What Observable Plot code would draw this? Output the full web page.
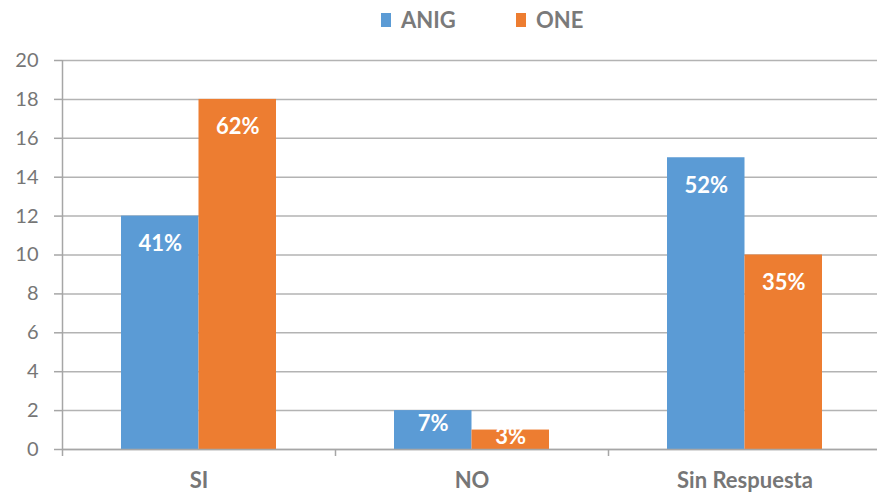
<!DOCTYPE html>
<html>
<head>
<meta charset="utf-8">
<script src="https://cdn.jsdelivr.net/npm/d3@7"></script>
<script src="https://cdn.jsdelivr.net/npm/@observablehq/plot@0.6"></script>
<style>
  html, body { margin: 0; padding: 0; background: #fff; }
  body { width: 877px; height: 497px; overflow: hidden; font-family: Lato, "Open Sans", sans-serif; }
  #legend { height: 45px; width: 877px; position: relative; }
  .item { position: absolute; top: 7px; display: flex; align-items: center; font-weight: bold; font-size: 22px; color: #7a7a7a; line-height: 26px; }
  .sw { width: 10px; height: 14px; margin-right: 10px; }
  #chart svg { max-width: none !important; }
</style>
</head>
<body>
<div id="legend"></div>
<div id="chart"></div>
<script>
const categories = ["SI", "NO", "Sin Respuesta"];
const seriesNames = ["ANIG", "ONE"];
const anigValues = [12, 2, 15];
const oneValues = [18, 1, 10];
const anigLabels = ["41%", "7%", "52%"];
const oneLabels = ["62%", "3%", "35%"];
const yTicks = [0, 2, 4, 6, 8, 10, 12, 14, 16, 18, 20];
const colors = ["#5B9BD5", "#ED7D31"];

const data = [];
categories.forEach((c, i) => {
  data.push({cat: c, series: "ANIG", v: anigValues[i], label: anigLabels[i]});
  data.push({cat: c, series: "ONE", v: oneValues[i], label: oneLabels[i]});
});

const legend = document.getElementById("legend");
const legendLeft = [381, 516];
seriesNames.forEach((s, i) => {
  const it = document.createElement("div");
  it.className = "item";
  it.style.left = legendLeft[i] + "px";
  it.innerHTML = `<span class="sw" style="background:${colors[i]}"></span><span>${s}</span>`;
  legend.appendChild(it);
});

const W = 881, ML = 62, MR = 0;
const bw = (W - ML - MR) / categories.length;
const outer = 59, barW = 77.5;
const inset = {
  ANIG: {l: outer, r: bw - outer - barW},
  ONE: {l: outer + barW, r: bw - outer - 2 * barW}
};
const tall = d => d.v >= 5;
const grayText = "#767676";

const marks = [
  Plot.gridY(yTicks, {stroke: "#b3b3b3", strokeOpacity: 1, strokeWidth: 1.5}),
  Plot.axisY(yTicks, {tickSize: 8, tickPadding: 16, fontSize: 20, color: grayText, stroke: "#a6a6a6", strokeWidth: 1.5, label: null}),
  Plot.ruleX([0], {x: () => categories[0], dx: -bw / 2, y1: 0, y2: 20, stroke: "#a6a6a6", strokeWidth: 1.5}),
];
seriesNames.forEach((s, i) => {
  const sub = data.filter(d => d.series === s);
  const dx = inset[s].l + barW / 2 - bw / 2;
  marks.push(Plot.barY(sub, {x: "cat", y: "v", fill: colors[i], insetLeft: inset[s].l, insetRight: inset[s].r}));
  marks.push(Plot.text(sub.filter(tall), {x: "cat", y: "v", text: "label", dx, dy: 28, fill: "white", fontWeight: "bold", fontSize: 22}));
  marks.push(Plot.text(sub.filter(d => !tall(d)), {x: "cat", y: d => d.v * 0.65, text: "label", dx, fill: "white", fontWeight: "bold", fontSize: 22}));
});
marks.push(Plot.ruleY([0], {stroke: "#a6a6a6", strokeWidth: 1.5}));
marks.push(Plot.axisX({tickSize: 7, dx: -bw / 2, tickFormat: () => "", stroke: "#a6a6a6", strokeWidth: 1.5, label: null}));
marks.push(Plot.axisX({tickSize: 0, tickPadding: 23, fontSize: 22, fontWeight: "bold", color: grayText, label: null}));

const chart = Plot.plot({
  width: W,
  height: 452,
  marginTop: 15,
  marginBottom: 48,
  marginLeft: ML,
  marginRight: MR,
  style: {fontFamily: "Lato, 'Open Sans', sans-serif", background: "#fff", overflow: "visible", maxWidth: "none"},
  x: {domain: categories, padding: 0},
  y: {domain: [0, 20]},
  marks
});
document.getElementById("chart").appendChild(chart);
</script>
</body>
</html>
